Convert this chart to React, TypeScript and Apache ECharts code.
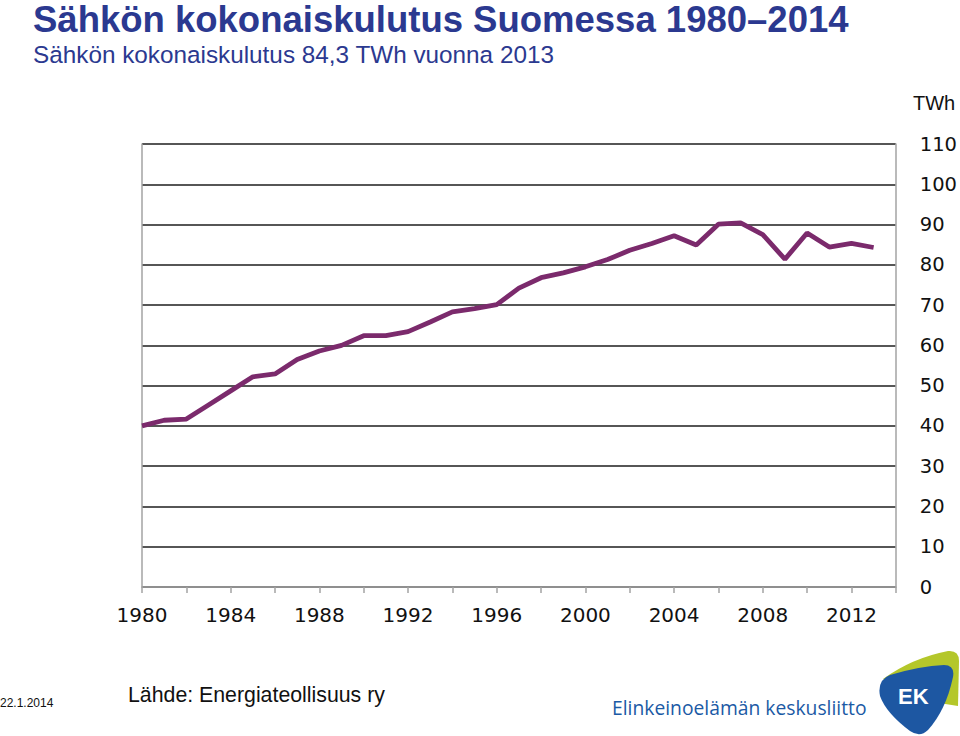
import React, { useEffect, useRef } from "react";
import * as echarts from "echarts";

const titleText = "Sähkön kokonaiskulutus Suomessa 1980–2014";
const subtitleText = "Sähkön kokonaiskulutus 84,3 TWh vuonna 2013";
const unitText = "TWh";
const sourceText = "Lähde: Energiateollisuus ry";
const dateText = "22.1.2014";
const orgText = "Elinkeinoelämän keskusliitto";

const years = [
  1980, 1981, 1982, 1983, 1984, 1985, 1986, 1987, 1988, 1989,
  1990, 1991, 1992, 1993, 1994, 1995, 1996, 1997, 1998, 1999,
  2000, 2001, 2002, 2003, 2004, 2005, 2006, 2007, 2008, 2009,
  2010, 2011, 2012, 2013,
];
const consumption = [
  40.0, 41.4, 41.7, 45.2, 48.7, 52.2, 52.9, 56.5, 58.6, 60.0,
  62.4, 62.4, 63.4, 65.8, 68.3, 69.1, 70.1, 74.2, 76.8, 78.0,
  79.5, 81.3, 83.6, 85.3, 87.2, 84.9, 90.1, 90.4, 87.5, 81.4,
  87.9, 84.4, 85.3, 84.3,
];

const NAVY = "#2b3990";
const LINE = "#7b2a6c";
const GRID = "#1e1e1e";
const AXIS = "#a3a3a3";

echarts.graphic.registerShape(
  "ekGreen",
  echarts.graphic.extendPath(
    "M 883 679 Q 912 658 948 651 Q 959 650 959 661 L 958 706 L 920 700 Z",
    {}
  )
);
echarts.graphic.registerShape(
  "ekBlue",
  echarts.graphic.extendPath(
    "M 890 675 Q 920 666 944 665 Q 955 665 953 677 Q 946 710 928 730 Q 920 738 910 731 Q 886 713 880 696 Q 877 680 890 675 Z",
    {}
  )
);

export default function App() {
  const ref = useRef<HTMLDivElement>(null);
  useEffect(() => {
    document.body.style.margin = "0";
    if (!ref.current) return;
    const chart = echarts.init(ref.current, undefined, { renderer: "svg" });
    chart.setOption({
      animation: false,
      backgroundColor: "#ffffff",
      grid: { left: 142, right: 59, top: 144, bottom: 149 },
      xAxis: {
        type: "value",
        min: 1980,
        max: 2014,
        interval: 2,
        axisLine: { show: true, lineStyle: { color: AXIS, width: 1.5 } },
        axisTick: { show: true, length: 6, lineStyle: { color: AXIS, width: 1.5 } },
        splitLine: { show: false },
        axisLabel: {
          margin: 18,
          fontFamily: "DejaVu Sans",
          fontSize: 20,
          color: "#111",
          formatter: (v: number) => (v % 4 === 0 ? String(v) : ""),
        },
      },
      yAxis: [
        {
          type: "value",
          position: "right",
          min: 0,
          max: 110,
          interval: 10,
          axisLine: { show: true, lineStyle: { color: AXIS, width: 1.5 } },
          axisTick: { show: false },
          splitLine: { show: true, lineStyle: { color: GRID, width: 1.6 } },
          axisLabel: {
            margin: 24,
            fontFamily: "DejaVu Sans",
            fontSize: 19.5,
            color: "#111",
            align: "left",
          },
        },
        {
          type: "value",
          position: "left",
          min: 0,
          max: 110,
          interval: 10,
          axisLine: { show: true, lineStyle: { color: AXIS, width: 1.5 } },
          axisTick: { show: false },
          splitLine: { show: false },
          axisLabel: { show: false },
        },
      ],
      series: [
        {
          type: "line",
          data: years.map((y, i) => [y, consumption[i]]),
          showSymbol: false,
          symbol: "none",
          lineStyle: { color: LINE, width: 4.8 },
          z: 5,
        },
      ],
      graphic: [
        {
          type: "text",
          left: 33,
          top: 1,
          style: {
            text: titleText,
            fill: NAVY,
            font: "bold 36.5px 'Liberation Sans', Arial, sans-serif",
          },
        },
        {
          type: "text",
          left: 33,
          top: 42,
          style: {
            text: subtitleText,
            fill: NAVY,
            font: "24.3px 'Liberation Sans', Arial, sans-serif",
          },
        },
        {
          type: "text",
          left: 913,
          top: 93,
          style: {
            text: unitText,
            fill: "#111",
            font: "20px 'Liberation Sans', Arial, sans-serif",
          },
        },
        {
          type: "text",
          left: 0,
          top: 697,
          style: {
            text: dateText,
            fill: "#111",
            font: "12px 'Liberation Sans', Arial, sans-serif",
          },
        },
        {
          type: "text",
          left: 128,
          top: 684,
          style: {
            text: sourceText,
            fill: "#111",
            font: "21.3px 'Liberation Sans', Arial, sans-serif",
          },
        },
        {
          type: "text",
          left: 612,
          top: 698,
          style: {
            text: orgText,
            fill: "#1b5aa5",
            font: "19.3px 'Open Sans', sans-serif",
          },
        },
        { type: "ekGreen", x: 0, y: 0, style: { fill: "#b4c72a" } },
        { type: "ekBlue", x: 0, y: 0, style: { fill: "#1d57a2" } },
        {
          type: "text",
          left: 898,
          top: 685,
          style: {
            text: "EK",
            fill: "#ffffff",
            font: "bold 22px 'Liberation Sans', Arial, sans-serif",
          },
        },
      ],
    });
    return () => chart.dispose();
  }, []);
  return <div ref={ref} style={{ width: 960, height: 736 }} />;
}
